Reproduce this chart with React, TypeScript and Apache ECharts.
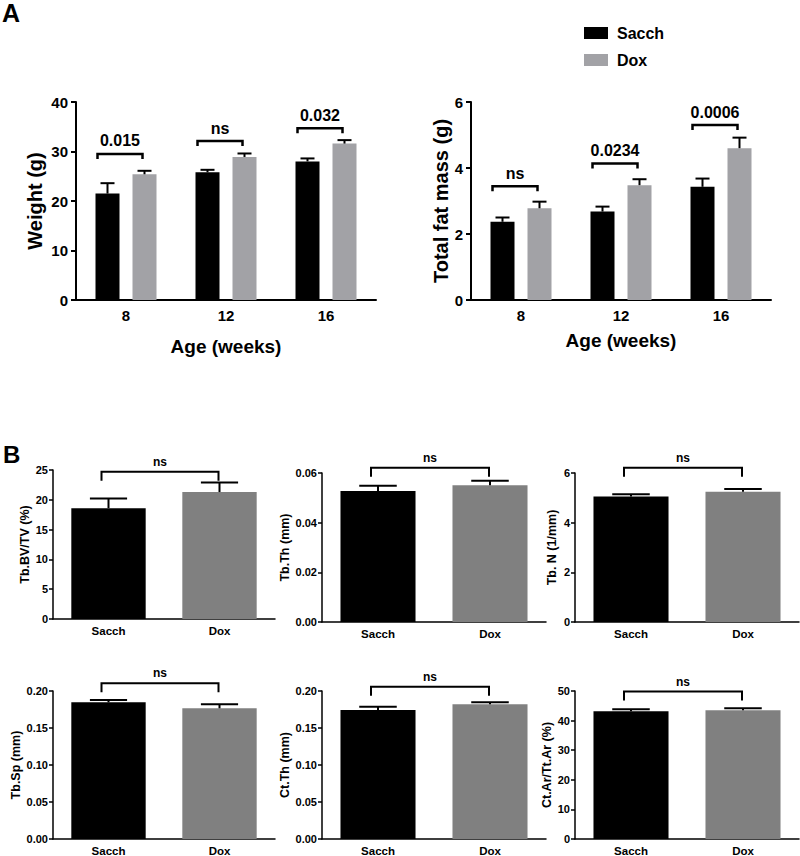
import React, { useEffect, useRef } from 'react';
import * as echarts from 'echarts';

const FONT = "'Liberation Sans', Arial, Helvetica, sans-serif";

// ---------- Panel A data ----------
const ageWeeks = ['8', '12', '16'];
const weightSacch = [21.5, 25.8, 28.0];
const weightSacchErr = [2.1, 0.5, 0.6];
const weightDox = [25.4, 28.9, 31.6];
const weightDoxErr = [0.7, 0.7, 0.7];
const weightBracketY = [29.5, 32.1, 34.7];
const weightPValues = ['0.015', 'ns', '0.032'];
const weightTicks = { max: 40, interval: 10 };

const fatSacch = [2.37, 2.68, 3.43];
const fatSacchErr = [0.13, 0.15, 0.25];
const fatDox = [2.78, 3.48, 4.6];
const fatDoxErr = [0.2, 0.18, 0.32];
const fatBracketY = [3.45, 4.14, 5.3];
const fatPValues = ['ns', '0.0234', '0.0006'];
const fatTicks = { max: 6, interval: 2 };

// ---------- Panel B data ----------
const groups = ['Sacch', 'Dox'];
const tbBvTv = [18.6, 21.3];
const tbBvTvErr = [1.6, 1.6];
const tbTh = [0.0528, 0.0551];
const tbThErr = [0.0021, 0.0018];
const tbN = [5.05, 5.25];
const tbNErr = [0.09, 0.11];
const tbSp = [0.1847, 0.1766];
const tbSpErr = [0.0031, 0.0054];
const ctTh = [0.1743, 0.182];
const ctThErr = [0.0045, 0.0027];
const ctArTtAr = [43.2, 43.5];
const ctArTtArErr = [0.6, 0.7];
const bBracketY = [24.7, 0.0621, 6.21, 0.2104, 0.2058, 49.8];
const bPValues = ['ns', 'ns', 'ns', 'ns', 'ns', 'ns'];
const bTitles = ['Tb.BV/TV (%)', 'Tb.Th (mm)', 'Tb. N (1/mm)', 'Tb.Sp (mm)', 'Ct.Th (mm)', 'Ct.Ar/Tt.Ar (%)'];
const bMax = [25, 0.06, 6, 0.2, 0.2, 50];
const bInterval = [5, 0.02, 2, 0.05, 0.05, 10];
const bDecimals = [0, 2, 0, 2, 2, 0];

const COLOR_SACCH = '#000000';
const COLOR_DOX_A = '#A2A2A6';
const COLOR_DOX_B = '#808080';

export default function App() {
  const ref = useRef<HTMLDivElement>(null);

  useEffect(() => {
    if (!ref.current) return;
    const chart = echarts.init(ref.current, undefined, { renderer: 'svg' });

    const aGrids = [
      { left: 76, top: 102, width: 300, height: 198 },
      { left: 471, top: 102, width: 300, height: 198 },
    ];
    const bGrids = [
      { left: 53, top: 470, width: 222, height: 149 },
      { left: 322, top: 473, width: 224, height: 149 },
      { left: 575, top: 473, width: 224, height: 149 },
      { left: 53, top: 691, width: 222, height: 148 },
      { left: 322, top: 691, width: 224, height: 148 },
      { left: 575, top: 691, width: 224, height: 148 },
    ];
    const bNameGap = [21, 30, 17, 30, 30, 17];

    const grid: any[] = [...aGrids, ...bGrids].map((g) => ({ ...g, outerBoundsMode: 'none' }));
    const xAxis: any[] = [];
    const yAxis: any[] = [];
    const series: any[] = [];

    const A_BAR = 24;
    const A_GAP = 13;
    const A_OFF = (A_BAR + A_GAP) / 2;

    const aDefs = [
      {
        yName: 'Weight (g)', nameGap: 31, xNameGap: 37,
        sacch: weightSacch, sacchErr: weightSacchErr, dox: weightDox, doxErr: weightDoxErr,
        brackets: weightBracketY, labels: weightPValues, ticks: weightTicks,
      },
      {
        yName: 'Total fat mass (g)', nameGap: 18, xNameGap: 31,
        sacch: fatSacch, sacchErr: fatSacchErr, dox: fatDox, doxErr: fatDoxErr,
        brackets: fatBracketY, labels: fatPValues, ticks: fatTicks,
      },
    ];

    aDefs.forEach((d, gi) => {
      xAxis.push({
        type: 'category', gridIndex: gi, data: ageWeeks,
        name: 'Age (weeks)', nameLocation: 'middle', nameGap: d.xNameGap,
        nameTextStyle: { fontSize: 19, fontWeight: 'bold', fontFamily: FONT, color: '#000' },
        axisLine: { lineStyle: { color: '#000', width: 2 } },
        axisTick: { alignWithLabel: true, length: 5, lineStyle: { color: '#000', width: 2 } },
        axisLabel: { fontSize: 15, fontWeight: 'bold', fontFamily: FONT, color: '#000', margin: 8 },
        splitLine: { show: false },
      });
      yAxis.push({
        type: 'value', gridIndex: gi, min: 0, max: d.ticks.max, interval: d.ticks.interval,
        name: d.yName, nameLocation: 'middle', nameGap: d.nameGap, nameRotate: 90,
        nameTextStyle: { fontSize: 20, fontWeight: 'bold', fontFamily: FONT, color: '#000' },
        axisLine: { show: true, lineStyle: { color: '#000', width: 2 } },
        axisTick: { show: true, length: 5, lineStyle: { color: '#000', width: 2 } },
        axisLabel: { fontSize: 15, fontWeight: 'bold', fontFamily: FONT, color: '#000', margin: 8 },
        splitLine: { show: false },
      });
      series.push({
        type: 'bar', name: 'Sacch', xAxisIndex: gi, yAxisIndex: gi, data: d.sacch,
        barWidth: A_BAR, barGap: `${(A_GAP / A_BAR) * 100}%`,
        itemStyle: { color: COLOR_SACCH },
      });
      series.push({
        type: 'bar', name: 'Dox', xAxisIndex: gi, yAxisIndex: gi, data: d.dox,
        barWidth: A_BAR, barGap: `${(A_GAP / A_BAR) * 100}%`,
        itemStyle: { color: COLOR_DOX_A },
      });
      const errData = [
        ...ageWeeks.map((_, i) => [i, d.sacch[i], d.sacchErr[i], 0]),
        ...ageWeeks.map((_, i) => [i, d.dox[i], d.doxErr[i], 1]),
      ];
      series.push({
        type: 'custom', name: 'errA' + gi, xAxisIndex: gi, yAxisIndex: gi, clip: false, z: 3,
        encode: { x: 0, y: 1 },
        data: errData,
        renderItem: (params: any, api: any) => {
          const i = api.value(0), v = api.value(1), e = api.value(2), g = api.value(3);
          const base = api.coord([i, v]);
          const top = api.coord([i, v + e]);
          const x = base[0] + (g === 0 ? -A_OFF : A_OFF);
          const st = { stroke: '#000', lineWidth: 2 };
          return {
            type: 'group',
            children: [
              { type: 'line', shape: { x1: x, y1: base[1], x2: x, y2: top[1] }, style: st },
              { type: 'line', shape: { x1: x - 7, y1: top[1], x2: x + 7, y2: top[1] }, style: st },
            ],
          };
        },
      });
      series.push({
        type: 'custom', name: 'brA' + gi, xAxisIndex: gi, yAxisIndex: gi, clip: false, z: 3,
        encode: { x: 0, y: 1 },
        data: d.brackets.map((y, i) => [i, y]),
        renderItem: (params: any, api: any) => {
          const c = api.coord([api.value(0), api.value(1)]);
          const l = c[0] - A_OFF - 10;
          const r = c[0] + A_OFF - 2;
          const y = c[1];
          return {
            type: 'group',
            children: [
              {
                type: 'polyline',
                shape: { points: [[l, y + 5], [l, y], [r, y], [r, y + 5]] },
                style: { stroke: '#000', lineWidth: 2.5, fill: 'none' },
              },
              {
                type: 'text',
                style: {
                  text: d.labels[params.dataIndex], x: (l + r) / 2, y: y - 5,
                  align: 'center', verticalAlign: 'bottom',
                  fontSize: 16, fontWeight: 'bold', fontFamily: FONT, fill: '#000',
                },
              },
            ],
          };
        },
      });
    });

    const bMeans = [tbBvTv, tbTh, tbN, tbSp, ctTh, ctArTtAr];
    const bErrs = [tbBvTvErr, tbThErr, tbNErr, tbSpErr, ctThErr, ctArTtArErr];

    bMeans.forEach((means, k) => {
      const gi = k + 2;
      const dec = bDecimals[k];
      xAxis.push({
        type: 'category', gridIndex: gi, data: groups,
        axisLine: { lineStyle: { color: '#000', width: 1.5 } },
        axisTick: { alignWithLabel: true, length: 4, lineStyle: { color: '#000', width: 1.5 } },
        axisLabel: { fontSize: 11.5, fontWeight: 'bold', fontFamily: FONT, color: '#000', margin: 6 },
        splitLine: { show: false },
      });
      yAxis.push({
        type: 'value', gridIndex: gi, min: 0, max: bMax[k], interval: bInterval[k],
        name: bTitles[k], nameLocation: 'middle', nameGap: bNameGap[k], nameRotate: 90,
        nameTextStyle: { fontSize: 12.5, fontWeight: 'bold', fontFamily: FONT, color: '#000' },
        axisLine: { show: true, lineStyle: { color: '#000', width: 1.5 } },
        axisTick: { show: true, length: 4, lineStyle: { color: '#000', width: 1.5 } },
        axisLabel: {
          fontSize: 11, fontWeight: 'bold', fontFamily: FONT, color: '#000', margin: 5,
          formatter: (v: number) => v.toFixed(dec),
        },
        splitLine: { show: false },
      });
      series.push({
        type: 'bar', name: 'bars' + k, xAxisIndex: gi, yAxisIndex: gi, barWidth: '67%',
        data: means.map((v, i) => ({
          value: v,
          itemStyle: { color: i === 0 ? COLOR_SACCH : COLOR_DOX_B },
        })),
      });
      series.push({
        type: 'custom', name: 'errB' + k, xAxisIndex: gi, yAxisIndex: gi, clip: false, z: 3,
        encode: { x: 0, y: 1 },
        data: means.map((v, i) => [i, v, bErrs[k][i]]),
        renderItem: (params: any, api: any) => {
          const i = api.value(0), v = api.value(1), e = api.value(2);
          const base = api.coord([i, v]);
          const top = api.coord([i, v + e]);
          const half = api.size([1, 0])[0] * 0.67 / 4;
          const x = base[0];
          const st = { stroke: '#000', lineWidth: 2 };
          return {
            type: 'group',
            children: [
              { type: 'line', shape: { x1: x, y1: base[1], x2: x, y2: top[1] }, style: st },
              { type: 'line', shape: { x1: x - half, y1: top[1], x2: x + half, y2: top[1] }, style: st },
            ],
          };
        },
      });
      series.push({
        type: 'custom', name: 'brB' + k, xAxisIndex: gi, yAxisIndex: gi, clip: false, z: 3,
        encode: { x: 0, y: 2 },
        data: [[0, 1, bBracketY[k]]],
        renderItem: (params: any, api: any) => {
          const a = api.coord([api.value(0), api.value(2)]);
          const b = api.coord([api.value(1), api.value(2)]);
          const l = a[0] - 7;
          const r = b[0] - 1;
          const y = a[1];
          return {
            type: 'group',
            children: [
              {
                type: 'polyline',
                shape: { points: [[l, y + 9], [l, y], [r, y], [r, y + 9]] },
                style: { stroke: '#000', lineWidth: 2, fill: 'none' },
              },
              {
                type: 'text',
                style: {
                  text: bPValues[k], x: (l + r) / 2, y: y - 4,
                  align: 'center', verticalAlign: 'bottom',
                  fontSize: 12, fontWeight: 'bold', fontFamily: FONT, fill: '#000',
                },
              },
            ],
          };
        },
      });
    });

    chart.setOption({
      animation: false,
      backgroundColor: '#ffffff',
      grid,
      xAxis,
      yAxis,
      series,
      legend: {
        data: ['Sacch', 'Dox'],
        orient: 'vertical',
        left: 584,
        top: 25,
        padding: 0,
        itemWidth: 24,
        itemHeight: 12,
        itemGap: 11,
        icon: 'rect',
        selectedMode: false,
        textStyle: { fontSize: 16, fontWeight: 'bold', fontFamily: FONT, color: '#000', padding: [0, 0, 0, 4] },
      },
      graphic: [
        {
          type: 'text', left: 2, top: 0,
          style: { text: 'A', fontSize: 25, fontWeight: 'bold', fontFamily: FONT, fill: '#000' },
        },
        {
          type: 'text', left: 3, top: 442,
          style: { text: 'B', fontSize: 24, fontWeight: 'bold', fontFamily: FONT, fill: '#000' },
        },
      ],
    });

    return () => chart.dispose();
  }, []);

  return <div ref={ref} style={{ width: 800, height: 856, position: 'fixed', left: 0, top: 0, background: '#fff' }} />;
}
